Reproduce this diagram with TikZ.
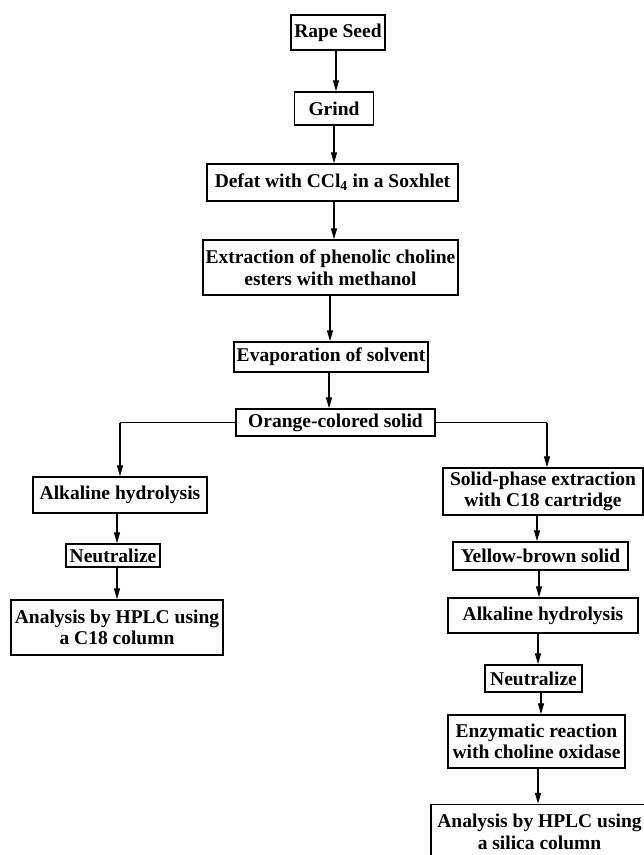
\documentclass[tikz,border=0pt]{standalone}
\usepackage{fontspec}
\setmainfont{Liberation Serif}
\usetikzlibrary{arrows.meta}
\tikzset{
  box/.style={draw, line width=1.5pt, inner sep=0pt, align=center,
    font=\fontsize{19.5}{21.5}\selectfont\bfseries},
  arr/.style={line width=1.4pt, -{Triangle[length=11pt,width=6pt]}},
  ln/.style={line width=1.2pt}
}
\newcommand{\bx}[6]{\node[box, minimum width=#4pt, minimum height=#5pt] (#1) at (#2,#3) {#6};}
\begin{document}
\begin{tikzpicture}[x=1pt,y=-1pt]
\useasboundingbox (0,0) rectangle (644,855);
\clip (0,0) rectangle (644,855);
\bx{rape}{338}{32.5}{94}{35}{Rape Seed}
\bx{grind}{334}{108.5}{79}{33}{Grind}
\bx{defat}{332.5}{182.5}{251}{37}{Defat with CCl\textsubscript{4} in a Soxhlet}
\bx{extr}{330.5}{267.5}{255}{55}{Extraction of phenolic choline\\esters with methanol}
\bx{evap}{331}{357}{194}{30}{Evaporation of solvent}
\bx{orange}{335.5}{422.5}{199}{27}{Orange-colored solid}
\bx{alka}{120}{495}{174}{36}{Alkaline hydrolysis}
\bx{neuta}{113}{555.5}{94}{23}{Neutralize}
\bx{anaa}{117}{627.5}{212}{55}{Analysis by HPLC using\\a C18 column}
\bx{spe}{543}{491.5}{200}{47}{Solid-phase extraction\\with C18 cartridge}
\bx{yb}{540.5}{556}{175}{28}{Yellow-brown solid}
\bx{alkb}{543}{615.5}{190}{35}{Alkaline hydrolysis}
\bx{neutb}{533.5}{678.5}{97}{27}{Neutralize}
\bx{enz}{536.5}{741.5}{177}{53}{Enzymatic reaction\\with choline oxidase}
\bx{anab}{539.5}{832}{217}{55}{Analysis by HPLC using\\a silica column}

\coordinate (lc) at (120,422.5);
\coordinate (rc) at (547,422.5);

\draw[arr] (rape.south -| 336,0) -- (grind.north -| 336,0);
\draw[arr] (grind.south -| 334,0) -- (defat.north -| 334,0);
\draw[arr] (defat.south -| 334,0) -- (extr.north -| 334,0);
\draw[arr] (extr.south -| 330,0) -- (evap.north -| 330,0);
\draw[arr] (evap.south -| 329,0) -- (orange.north -| 329,0);
\draw[ln] (orange.west) -- (lc);
\draw[arr] (lc) -- (alka.north -| lc);
\draw[ln] (orange.east) -- (rc);
\draw[arr] (rc) -- (spe.north -| rc);
\draw[arr] (alka.south -| 117,0) -- (neuta.north -| 117,0);
\draw[arr] (neuta.south -| 117,0) -- (anaa.north -| 117,0);
\draw[arr] (spe.south -| 537,0) -- (yb.north -| 537,0);
\draw[arr] (yb.south -| 539,0) -- (alkb.north -| 539,0);
\draw[arr] (alkb.south -| 538,0) -- (neutb.north -| 538,0);
\draw[arr] (neutb.south -| 541,0) -- (enz.north -| 541,0);
\draw[arr] (enz.south -| 538,0) -- (anab.north -| 538,0);
\end{tikzpicture}
\end{document}
